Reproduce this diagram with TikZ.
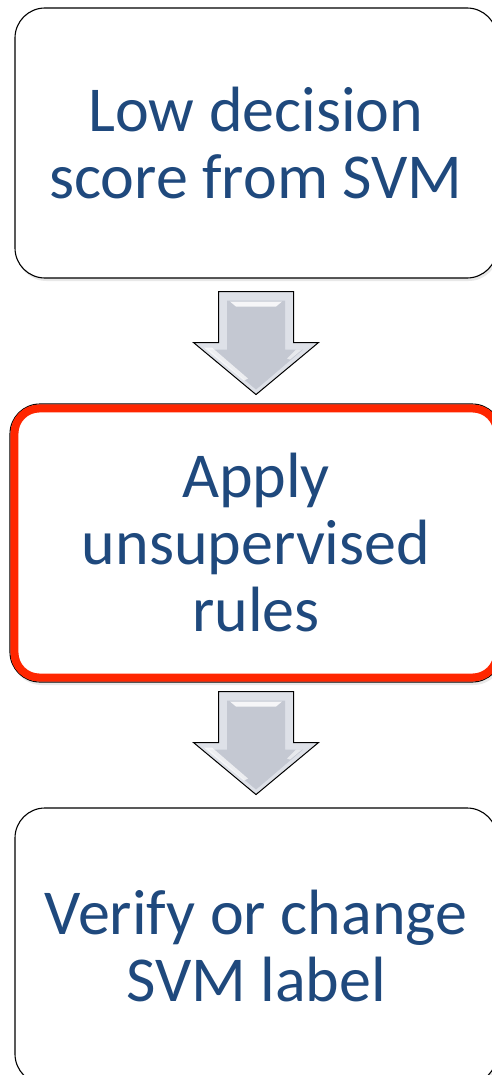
\documentclass[tikz,border=0pt]{standalone}
\usepackage{fontspec}
\setmainfont{Carlito}
\usetikzlibrary{calc,shadows}
\definecolor{stepblue}{RGB}{31,73,125}
\definecolor{rimred}{RGB}{255,38,0}
\definecolor{arrface}{RGB}{196,200,210}
\definecolor{arrbevel}{RGB}{222,225,232}
\tikzset{
  stepbox/.style={draw=black,line width=1.1pt,rounded corners=30pt,fill=white,
    text=stepblue,align=center,font=\fontsize{64}{67}\selectfont,
    drop shadow={opacity=0.18,shadow xshift=1.5pt,shadow yshift=-3pt}},
  blockarr/.style={draw=black,line width=1pt,fill=arrbevel,line join=miter},
}
\begin{document}
\begin{tikzpicture}[x=1pt,y=-1pt]
	\useasboundingbox (0,0) rectangle (491,1075);
	\node[stepbox,minimum width=482pt,minimum height=270pt] (low) at (256,143) {Low decision\\score from SVM};
	\node[stepbox,minimum width=492pt,minimum height=278pt] (apply) at (256,543) {Apply\\unsupervised\\rules};
	\draw[rimred,line width=8pt,rounded corners=25pt] ([xshift=5pt,yshift=-5pt]apply.north west) rectangle ([xshift=-5pt,yshift=5pt]apply.south east);
	\node[stepbox,minimum width=482pt,minimum height=276pt] (verify) at (256,946) {Verify or change\\SVM label};
	% block arrows between the steps
	\foreach \a/\g in {low/13,apply/9}{
		\draw[blockarr] ($(\a.south)+(-37.5,\g)$) -- ++(75,0) -- ++(0,51) -- ++(25,0) -- ++(-62.5,52) -- ++(-62.5,-52) -- ++(25,0) -- cycle;
		\fill[arrface] ($(\a.south)+(-29,\g+9)$) -- ++(58,0) -- ++(0,49) -- ++(18,0) -- ++(-47,40) -- ++(-47,-40) -- ++(18,0) -- cycle;
		\fill[white,opacity=0.85] ($(\a.south)+(-26,\g+10)$) -- ++(52,0) -- ++(-6,5) -- ++(-40,0) -- cycle;
		\fill[white,opacity=0.7] ($(\a.south)+(-52,\g+56)$) -- ++(8,0) -- ++(36,31) -- ++(-4,2) -- cycle;
		\fill[white,opacity=0.6] ($(\a.south)+(40,\g+58)$) -- ++(6,0) -- ++(-12,10) -- ++(-3,-1) -- cycle;
	}
\end{tikzpicture}
\end{document}
